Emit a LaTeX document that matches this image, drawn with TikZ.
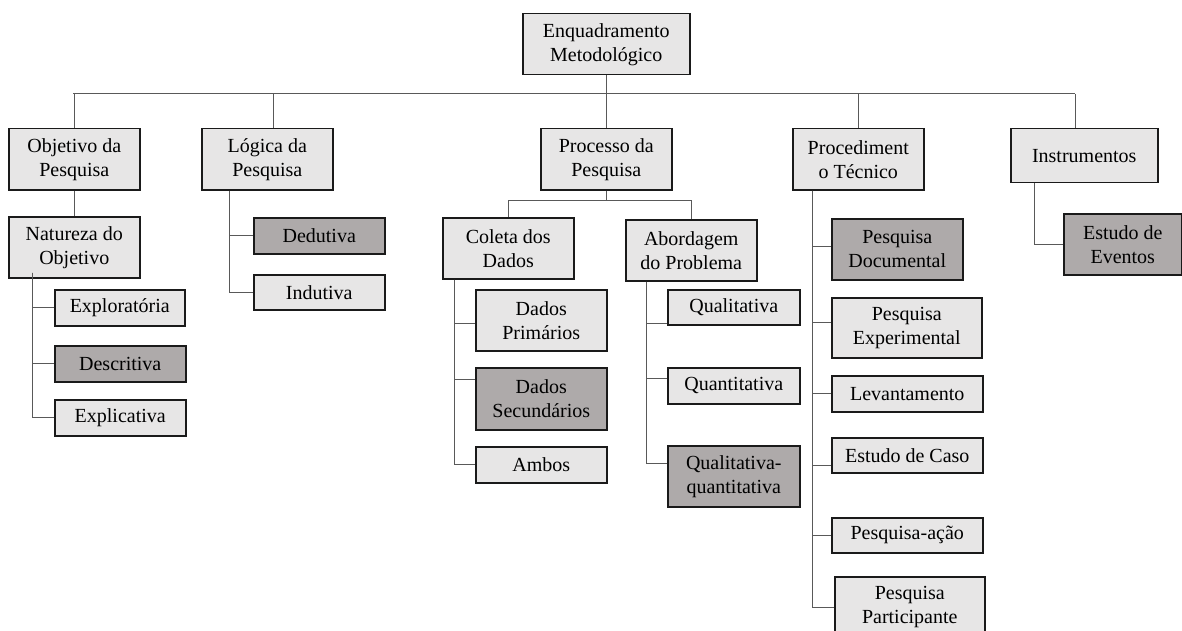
\documentclass[tikz,border=0pt]{standalone}
\usepackage{fontspec}
\setmainfont{Liberation Serif}
\usepackage{tikz}
\definecolor{claro}{HTML}{E7E6E6}
\definecolor{escuro}{HTML}{AEAAAA}
\definecolor{borda}{HTML}{1A1A1A}
\definecolor{linha}{HTML}{595959}

\begin{document}
\begin{tikzpicture}[x=1pt, y=-1pt,
    caixa/.style={draw=borda, line width=1.5pt, fill=claro, rectangle, anchor=north west,
        inner sep=0pt, align=center, font=\fontsize{20}{24}\selectfont},
    escura/.style={caixa, fill=escuro},
    liga/.style={draw=linha, line width=1pt}]
    \useasboundingbox (0,0) rectangle (1182,631);

    \node[caixa, minimum width=167pt, minimum height=61pt] (enq) at (522,13) {Enquadramento\\Metodológico};

    \node[caixa, minimum width=131pt, minimum height=61pt] (objetivo) at (8,128) {Objetivo da\\Pesquisa};
    \node[caixa, minimum width=131pt, minimum height=61pt] (logica) at (201,128) {Lógica da\\Pesquisa};
    \node[caixa, minimum width=131pt, minimum height=61pt] (processo) at (540,128) {Processo da\\Pesquisa};
    \node[caixa, minimum width=131pt, minimum height=61pt] (procedimento) at (792,128) {Procediment\\o Técnico};
    \node[caixa, minimum width=147pt, minimum height=54pt] (instrumentos) at (1010,128) {Instrumentos};

    \node[caixa, minimum width=131pt, minimum height=61pt] (natureza) at (8,216) {Natureza do\\Objetivo};
    \node[caixa, minimum width=130pt, minimum height=36pt] (exploratoria) at (54,289) {Exploratória};
    \node[escura, minimum width=131pt, minimum height=36pt] (descritiva) at (54,345) {Descritiva};
    \node[caixa, minimum width=131pt, minimum height=36pt] (explicativa) at (54,399) {Explicativa};

    \node[escura, minimum width=131pt, minimum height=36pt] (dedutiva) at (253,217) {Dedutiva};
    \node[caixa, minimum width=131pt, minimum height=35pt] (indutiva) at (253,274) {Indutiva};

    \node[caixa, minimum width=131pt, minimum height=61pt] (coleta) at (442,217) {Coleta dos\\Dados};
    \node[caixa, minimum width=131pt, minimum height=61pt] (abordagem) at (625,219) {Abordagem\\do Problema};
    \node[caixa, minimum width=131pt, minimum height=61pt] (primarios) at (475,289) {Dados\\Primários};
    \node[escura, minimum width=131pt, minimum height=62pt] (secundarios) at (475,367) {Dados\\Secundários};
    \node[caixa, minimum width=131pt, minimum height=36pt] (ambos) at (475,446) {Ambos};
    \node[caixa, minimum width=132pt, minimum height=35pt] (qualitativa) at (667,289) {Qualitativa};
    \node[caixa, minimum width=132pt, minimum height=36pt] (quantitativa) at (667,367) {Quantitativa};
    \node[escura, minimum width=132pt, minimum height=61pt] (mista) at (667,445) {Qualitativa-\\quantitativa};

    \node[escura, minimum width=131pt, minimum height=61pt] (documental) at (831,218) {Pesquisa\\Documental};
    \node[caixa, minimum width=150pt, minimum height=60pt] (experimental) at (831,297) {Pesquisa\\Experimental};
    \node[caixa, minimum width=151pt, minimum height=36pt] (levantamento) at (831,375) {Levantamento};
    \node[caixa, minimum width=151pt, minimum height=35pt] (caso) at (831,437) {Estudo de Caso};
    \node[caixa, minimum width=151pt, minimum height=35pt] (acao) at (831,517) {Pesquisa-ação};
    \node[caixa, minimum width=150pt, minimum height=61pt] (participante) at (834,576) {Pesquisa\\Participante};

    \node[escura, minimum width=118pt, minimum height=61pt] (eventos) at (1063,213) {Estudo de\\Eventos};

    \coordinate (b1) at (73,94);
    \coordinate (b5) at (1075,94);
    \draw[liga] (b1) -- (b5);
    \draw[liga] (enq.south) -- (processo.north);
    \draw[liga] (objetivo.north) -- (objetivo.north |- b1);
    \draw[liga] ([xshift=6pt]logica.north) -- ([xshift=6pt]logica.north |- b1);
    \draw[liga] (procedimento.north) -- (procedimento.north |- b1);
    \draw[liga] (b5) -- (b5 |- instrumentos.north);

    \draw[liga] (objetivo.south) -- (natureza.north);
    \draw[liga] ([xshift=-42pt,yshift=6pt]natureza.south) |- (exploratoria.west);
    \draw[liga] ([xshift=-42pt,yshift=6pt]natureza.south) |- (descritiva.west);
    \draw[liga] ([xshift=-42pt,yshift=6pt]natureza.south) |- (explicativa.west);

    \draw[liga] ([xshift=-38pt]logica.south) |- (dedutiva.west);
    \draw[liga] ([xshift=-38pt]logica.south) |- (indutiva.west);

    \draw[liga] (processo.south) -- ++(0,10) -| (coleta.north);
    \draw[liga] (processo.south) -- ++(0,10) -| (abordagem.north);

    \draw[liga] ([xshift=-54pt]coleta.south) |- ([yshift=-3pt]primarios.west);
    \draw[liga] ([xshift=-54pt]coleta.south) |- ([yshift=19pt]secundarios.west);
    \draw[liga] ([xshift=-54pt]coleta.south) |- (ambos.west);

    \draw[liga] ([xshift=-45pt]abordagem.south) |- ([yshift=-16pt]qualitativa.west);
    \draw[liga] ([xshift=-45pt]abordagem.south) |- ([yshift=7pt]quantitativa.west);
    \draw[liga] ([xshift=-45pt]abordagem.south) |- ([yshift=13pt]mista.west);

    \draw[liga] ([xshift=-46pt]procedimento.south) |- ([yshift=3pt]documental.west);
    \draw[liga] ([xshift=-46pt]procedimento.south) |- ([yshift=5pt]experimental.west);
    \draw[liga] ([xshift=-46pt]procedimento.south) |- (levantamento.west);
    \draw[liga] ([xshift=-46pt]procedimento.south) |- ([yshift=-10pt]caso.west);
    \draw[liga] ([xshift=-46pt]procedimento.south) |- (acao.west);
    \draw[liga] ([xshift=-46pt]procedimento.south) |- (participante.west);

    \draw[liga] ([xshift=-50pt]instrumentos.south) |- (eventos.west);
\end{tikzpicture}
\end{document}
